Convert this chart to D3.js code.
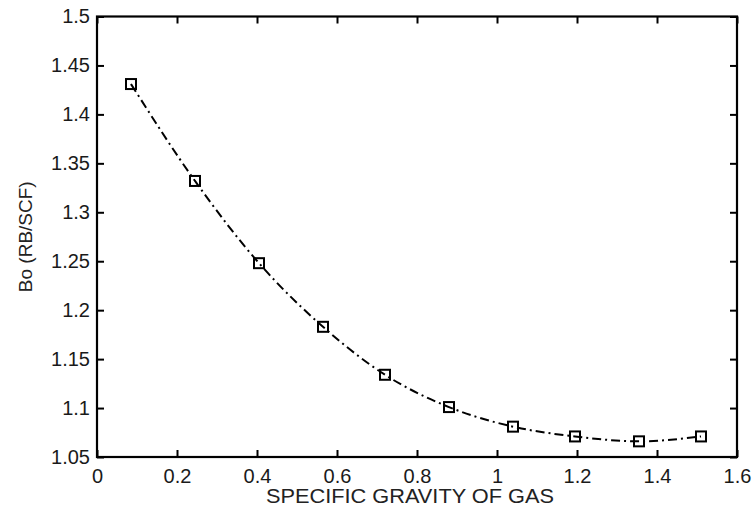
<!DOCTYPE html>
<meta charset="utf-8">
<head>
<style>
    body {margin: 0; background: #fff;}
    text {font-family: "Liberation Sans", Arial, sans-serif; fill: #1a1a1a;}
</style>
<script src="https://d3js.org/d3.v7.min.js"></script>
</head>
<body>
    <div id="chart"></div>
</body>
<script>

var gravity = [0.085, 0.245, 0.405, 0.565, 0.72, 0.88, 1.04, 1.195, 1.355, 1.51];
var bo = [1.431, 1.332, 1.248, 1.183, 1.134, 1.101, 1.081, 1.071, 1.066, 1.071];

var xTicks = [0, 0.2, 0.4, 0.6, 0.8, 1, 1.2, 1.4, 1.6];
var yTicks = [1.05, 1.1, 1.15, 1.2, 1.25, 1.3, 1.35, 1.4, 1.45, 1.5];

var xLabel = "SPECIFIC GRAVITY OF GAS";
var yLabel = "Bo (RB/SCF)";

var width = 756, height = 512;
var plotLeft = 97, plotRight = 737, plotTop = 16.5, plotBottom = 457;
var tickLen = 7;

var svg = d3.select("#chart").append("svg")
    .attr("width", width)
    .attr("height", height);

var x = d3.scaleLinear().domain([0, 1.6]).range([plotLeft, plotRight]);
var y = d3.scaleLinear().domain([1.05, 1.5]).range([plotBottom, plotTop]);

// axes: labels on bottom/left, plain inward ticks on top/right
svg.append("g")
    .attr("transform", "translate(0," + plotBottom + ")")
    .call(d3.axisBottom(x).tickValues(xTicks).tickSizeInner(-tickLen).tickSizeOuter(0).tickPadding(12)
        .tickFormat(function(d) { return String(d); }));

svg.append("g")
    .attr("transform", "translate(" + plotLeft + ",0)")
    .call(d3.axisLeft(y).tickValues(yTicks).tickSizeInner(-tickLen).tickSizeOuter(0).tickPadding(7)
        .tickFormat(function(d) { return String(+d.toFixed(2)); }));

svg.append("g")
    .attr("transform", "translate(0," + plotTop + ")")
    .call(d3.axisTop(x).tickValues(xTicks).tickSizeInner(-tickLen).tickSizeOuter(0).tickFormat(""));

svg.append("g")
    .attr("transform", "translate(" + plotRight + ",0)")
    .call(d3.axisRight(y).tickValues(yTicks).tickSizeInner(-tickLen).tickSizeOuter(0).tickFormat(""));

svg.selectAll(".domain").remove();
svg.selectAll(".tick line").attr("stroke", "#000").attr("stroke-width", 2);
svg.selectAll(".tick text")
    .style("font-size", "20px")
    .style("font-family", '"Liberation Sans", Arial, sans-serif')
    .attr("fill", "#222");

// box
svg.append("rect")
    .attr("x", plotLeft)
    .attr("y", plotTop)
    .attr("width", plotRight - plotLeft)
    .attr("height", plotBottom - plotTop)
    .attr("fill", "none")
    .attr("stroke", "#000")
    .attr("stroke-width", 2.2);

// axis titles
svg.append("text")
    .attr("x", 410)
    .attr("y", 503)
    .attr("text-anchor", "middle")
    .attr("textLength", 288)
    .attr("lengthAdjust", "spacingAndGlyphs")
    .style("font-size", "20px")
    .style("fill", "#222")
    .text(xLabel);

svg.append("text")
    .attr("transform", "translate(32," + ((plotTop + plotBottom) / 2) + ") rotate(-90)")
    .attr("text-anchor", "middle")
    .style("font-size", "19px")
    .style("fill", "#222")
    .text(yLabel);

// data line
var points = gravity.map(function(g, i) { return [g, bo[i]]; });

var line = d3.line()
    .x(function(d) { return x(d[0]); })
    .y(function(d) { return y(d[1]); })
    .curve(d3.curveMonotoneX);

svg.append("path")
    .datum(points)
    .attr("d", line)
    .attr("fill", "none")
    .attr("stroke", "#000")
    .attr("stroke-width", 2)
    .attr("stroke-dasharray", "9,4,2,4");

var size = 10;
svg.append("g").selectAll("rect")
    .data(points)
    .enter().append("rect")
    .attr("x", function(d) { return x(d[0]) - size / 2; })
    .attr("y", function(d) { return y(d[1]) - size / 2; })
    .attr("width", size)
    .attr("height", size)
    .attr("fill", "none")
    .attr("stroke", "#000")
    .attr("stroke-width", 2);

</script>
